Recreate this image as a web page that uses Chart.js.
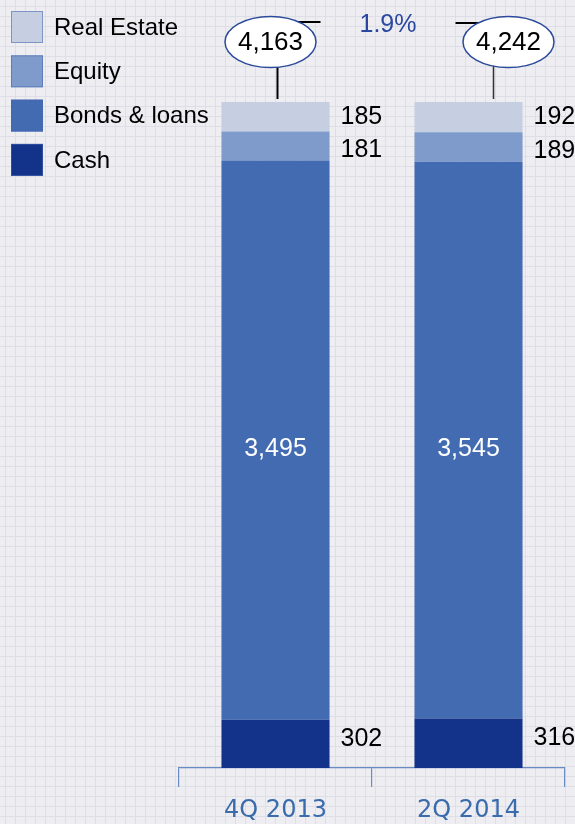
<!DOCTYPE html>
<html>
<head>
<meta charset="utf-8">
<script src="https://cdn.jsdelivr.net/npm/chart.js@4"></script>
<style>
  html, body { margin: 0; padding: 0; }
  body {
    width: 575px; height: 824px; overflow: hidden;
    background-color: #ededf2;
    background-image:
      linear-gradient(to right, #dedee6 1px, transparent 1px),
      linear-gradient(to bottom, #dedee6 1px, transparent 1px);
    background-size: 10px 10px;
    background-position: 5px 6px;
  }
  canvas { display: block; }
</style>
</head>
<body>
<canvas id="graphique-actifs" width="575" height="824"></canvas>
<script>
// données
const categories = ["4Q 2013", "2Q 2014"];
const cash = [302, 316];
const bondsLoans = [3495, 3545];
const equity = [181, 189];
const realEstate = [185, 192];
const totals = [4163, 4242];
const growth = "1.9%";

const seriesNames = ["Cash", "Bonds & loans", "Equity", "Real Estate"];
const seriesValues = [cash, bondsLoans, equity, realEstate];
const seriesColors = ["#13338a", "#436bb2", "#7e9bcb", "#c6cee1"];

// chaque barre est ramenée à 100 % (les deux colonnes ont la même hauteur)
const datasets = seriesValues.map((values, k) => ({
  label: seriesNames[k],
  data: values.map((v, i) => v / totals[i] * 100),
  raw: values,
  backgroundColor: seriesColors[k],
  borderWidth: 0,
  categoryPercentage: 0.8,
  barPercentage: 0.7
}));

const fontTexte = '"Liberation Sans", Arial, sans-serif';

const annotations = {
  id: "annotations",
  afterDatasetsDraw(chart) {
    const ctx = chart.ctx;
    ctx.save();

    // étiquettes des valeurs
    chart.data.datasets.forEach((ds, k) => {
      const meta = chart.getDatasetMeta(k);
      meta.data.forEach((bar, i) => {
        const val = ds.raw[i].toLocaleString("en-US");
        const milieu = (bar.y + bar.base) / 2;
        ctx.font = "25px " + fontTexte;
        ctx.textBaseline = "middle";
        if (k === 1) {
          ctx.fillStyle = "#ffffff";
          ctx.textAlign = "center";
          ctx.fillText(val, bar.x, milieu + 9);
        } else {
          let dy = 0;
          if (k === 2) dy = 4;
          if (k === 0) dy = -5;
          ctx.fillStyle = "#000000";
          ctx.textAlign = "left";
          ctx.fillText(val, bar.x + bar.width / 2 + 11, milieu + dy);
        }
      });
    });

    // bulles des totaux
    const top = chart.chartArea.top;
    const meta = chart.getDatasetMeta(0);
    const decalBulle = [-5, 40];
    const decalTrait = [2, 25];
    const bulles = meta.data.map((bar, i) => ({
      cx: bar.x + decalBulle[i],
      cy: top - 60,
      lx: bar.x + decalTrait[i]
    }));

    // traits horizontaux et pourcentage
    const y0 = top - 80;
    const finGauche = bulles[0].cx + 50;
    const debutDroite = bulles[1].cx - 53;
    ctx.strokeStyle = "#000";
    ctx.lineWidth = 2;
    ctx.beginPath();
    ctx.moveTo(bulles[0].cx, y0);
    ctx.lineTo(finGauche, y0);
    ctx.moveTo(debutDroite, y0 + 1);
    ctx.lineTo(bulles[1].cx, y0 + 1);
    ctx.stroke();

    ctx.fillStyle = "#2a48a0";
    ctx.font = "25px " + fontTexte;
    ctx.textAlign = "center";
    ctx.textBaseline = "middle";
    ctx.fillText(growth, (finGauche + debutDroite) / 2, y0 + 3);

    bulles.forEach((b, i) => {
      // trait vertical vers la barre
      ctx.strokeStyle = i === 0 ? "#000" : "#333";
      ctx.lineWidth = i === 0 ? 2 : 1.5;
      ctx.beginPath();
      ctx.moveTo(b.lx, b.cy + 20);
      ctx.lineTo(b.lx, top - 3);
      ctx.stroke();

      ctx.beginPath();
      ctx.ellipse(b.cx, b.cy, 45.5, 25.5, 0, 0, Math.PI * 2);
      ctx.fillStyle = "#ffffff";
      ctx.fill();
      ctx.strokeStyle = "#2b4a9b";
      ctx.lineWidth = 1.5;
      ctx.stroke();

      ctx.fillStyle = "#000";
      ctx.font = "26px " + fontTexte;
      ctx.fillText(totals[i].toLocaleString("en-US"), b.cx, b.cy + 1);
    });

    // légende
    for (let k = seriesNames.length - 1, n = 0; k >= 0; k--, n++) {
      const y = 11 + n * 44.3;
      ctx.fillStyle = seriesColors[k];
      ctx.fillRect(11, y, 32, 32);
      ctx.strokeStyle = "rgba(70, 100, 175, 0.55)";
      ctx.lineWidth = 1;
      ctx.strokeRect(11.5, y + 0.5, 31, 31);
      ctx.fillStyle = "#000";
      ctx.font = "24px " + fontTexte;
      ctx.textAlign = "left";
      ctx.textBaseline = "middle";
      ctx.fillText(seriesNames[k], 54, y + 17);
    }

    ctx.restore();
  }
};

new Chart(document.querySelector("#graphique-actifs"), {
  type: "bar",
  data: { labels: categories, datasets: datasets },
  options: {
    responsive: false,
    animation: false,
    layout: { padding: { left: 179, right: 10, top: 102, bottom: 0 } },
    plugins: { legend: { display: false }, tooltip: { enabled: false } },
    scales: {
      x: {
        stacked: true,
        afterFit(scale) { scale.height = 56; },
        grid: {
          drawOnChartArea: false,
          color: "#6a8cc4",
          tickLength: 19,
          lineWidth: 1.2
        },
        border: { display: true, color: "#6a8cc4", width: 1.2 },
        ticks: {
          color: "#3a6cac",
          padding: 9,
          font: { family: '"DejaVu Sans", Verdana, sans-serif', size: 24 }
        }
      },
      y: {
        stacked: true,
        display: false,
        min: 0,
        max: 100
      }
    }
  },
  plugins: [annotations]
});
</script>
</body>
</html>
